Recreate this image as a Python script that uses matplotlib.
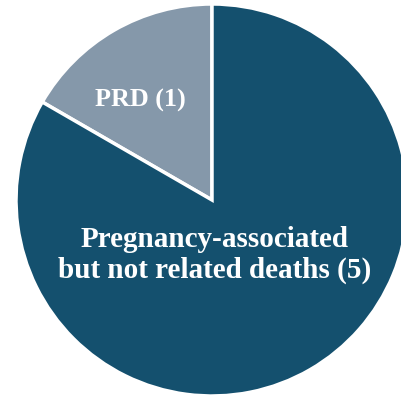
import matplotlib
matplotlib.use("Agg")
import matplotlib.pyplot as plt

labels = ["PRD (1)", "Pregnancy-associated\nbut not related deaths (5)"]
counts = [1, 5]
colors = ["#8598AA", "#14506E"]

W, H = 401, 396
CX, CY, R = 212, 200, 196  # pie centre / radius in pixels

fig = plt.figure(figsize=(W / 100, H / 100), dpi=100)
ax = fig.add_axes([0, 0, 1, 1])
ax.pie(counts, colors=colors, startangle=90, counterclock=True, radius=1,
       wedgeprops=dict(edgecolor="white", linewidth=2.5))
ax.set_xlim(-CX / R, (W - CX) / R)
ax.set_ylim(-(H - CY) / R, CY / R)
ax.set_aspect("equal")
ax.axis("off")

ax.text(-0.367, 0.51, labels[0], ha="center", va="center", color="white",
        fontsize=18.8, fontweight="bold", family="Liberation Serif")
ax.text(0.015, -0.28, labels[1], ha="center", va="center", color="white",
        fontsize=21, fontweight="bold", family="Liberation Serif", linespacing=1.18)

fig.savefig("out.png", dpi=100)
